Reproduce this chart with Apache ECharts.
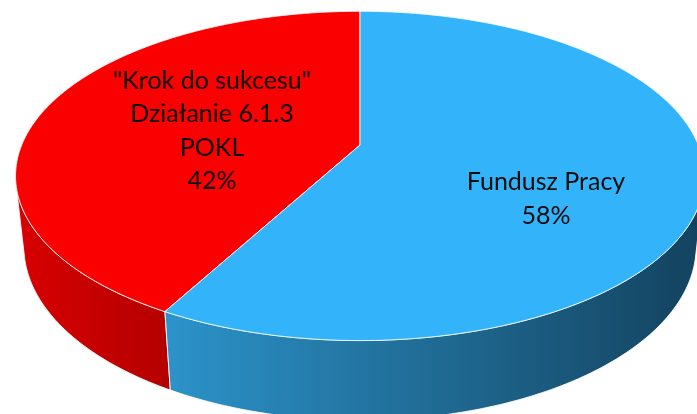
<!DOCTYPE html>
<html>
<head>
<meta charset="utf-8">
<script src="https://cdn.jsdelivr.net/npm/echarts@6/dist/echarts.min.js"></script>
<style>
  html, body { margin: 0; background: #fff; }
  #chart { width: 697px; height: 414px; }
</style>
</head>
<body>
<div id="chart"></div>
<script>
// slice names and shares (%)
const categories = ['"Krok do sukcesu"\nDziałanie 6.1.3\nPOKL', 'Fundusz Pracy']
const values = [42, 58]

// styling
const topColors = ['#fa0000', '#33b3fa']
const wallColors = [['#d80000', '#b40000'], ['#2c93ca', '#13425e']]
const labelAnchor = [[212, 131], [546, 199]]

// perspective view of a unit disc (tilted towards the viewer)
const view = { cx: 360, cy: 145, F: 1590, D: 4.70, tilt: 28, H: 0.239 }
const sa = Math.sin(view.tilt * Math.PI / 180)
const ca = Math.cos(view.tilt * Math.PI / 180)

/** deg: angle from the top, counter-clockwise; r: radius; h: height */
function proj(deg, r, h) {
  const t = deg * Math.PI / 180
  const u = -Math.sin(t) * r
  const v = -Math.cos(t) * r
  const depth = view.D - h * sa - v * ca
  return [view.cx + view.F * u / depth, view.cy - view.F * (h * ca - v * sa) / depth]
}

function arc(a0, a1, h) {
  const pts = []
  const n = Math.max(2, Math.ceil((a1 - a0) / 0.5))
  for (let k = 0; k <= n; k++) pts.push(proj(a0 + (a1 - a0) * k / n, 1, h))
  return pts
}

// part of the rim that faces the camera
const k = 1 / (view.D * ca)
const wallMin = Math.acos(-k) * 180 / Math.PI
const wallMax = 360 - wallMin

const total = values.reduce((s, v) => s + v, 0)
const starts = values.map((_, i) => values.slice(0, i).reduce((s, v) => s + v, 0) / total * 360)

const chart = echarts.init(document.getElementById('chart'), null, { renderer: 'canvas' })

chart.setOption({
  backgroundColor: '#fff',
  animation: false,
  series: [{
    type: 'custom',
    coordinateSystem: 'none',
    data: values.map((v, i) => ({ value: v, name: categories[i] })),
    renderItem(params, api) {
      const i = params.dataIndex
      const a0 = starts[i]
      const a1 = a0 + api.value(0) / total * 360
      const children = []

      const w0 = Math.max(a0, wallMin)
      const w1 = Math.min(a1, wallMax)
      if (w1 > w0) {
        const pts = arc(w0, w1, 0).concat(arc(w0, w1, -view.H).reverse())
        const xs = pts.map(p => p[0])
        const x0 = Math.min(...xs), x1 = Math.max(...xs)
        children.push({
          type: 'polygon',
          z2: 1,
          shape: { points: pts },
          style: {
            fill: new echarts.graphic.LinearGradient(x0, 0, x1, 0, [
              { offset: 0, color: wallColors[i][0] },
              { offset: 1, color: wallColors[i][1] },
            ], true),
            stroke: 'rgba(255,255,255,0.85)',
            lineWidth: 1,
          },
        })
      }

      children.push({
        type: 'polygon',
        z2: 5,
        shape: { points: [proj(0, 0, 0)].concat(arc(a0, a1, 0)) },
        style: { fill: topColors[i], stroke: 'rgba(255,255,255,0.8)', lineWidth: 1 },
      })

      const pct = Math.round(api.value(0) / total * 100) + '%'
      children.push({
        type: 'text',
        z2: 10,
        style: {
          text: categories[i] + '\n' + pct,
          x: labelAnchor[i][0],
          y: labelAnchor[i][1],
          align: 'center',
          verticalAlign: 'middle',
          fill: '#0d0d0d',
          fontFamily: 'Lato',
          fontSize: 25,
          lineHeight: 33.5,
        },
      })
      return { type: 'group', children }
    },
  }],
})
</script>
</body>
</html>
